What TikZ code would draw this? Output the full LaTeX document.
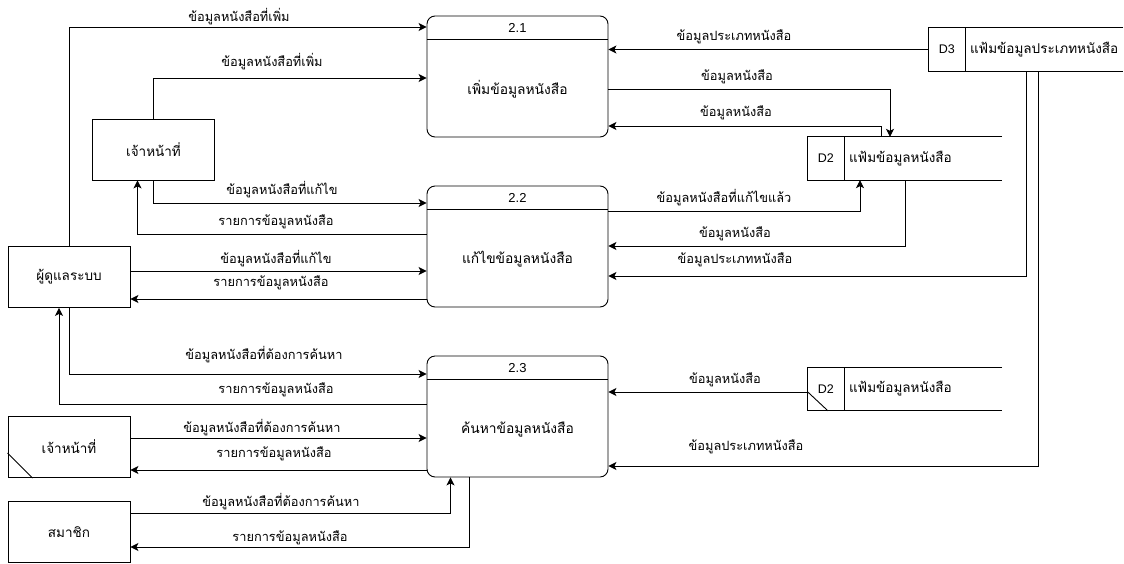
\documentclass[tikz,border=0pt]{standalone}
\usepackage{fontspec}
\setmainfont{Liberation Sans}
\newfontfamily\thaifont[Script=Thai]{Loma}
\usetikzlibrary{arrows.meta}
\tikzset{
  flow/.style={draw, line width=0.9pt, -{Stealth[length=8pt,width=8pt,inset=2pt]}},
  entity/.style={draw, line width=0.9pt, minimum width=122pt, minimum height=61pt,
    font=\thaifont\fontsize{13.5}{15}\selectfont},
  proc/.style={draw, line width=0.9pt, rounded corners=8pt, minimum width=181pt, minimum height=121pt},
  store/.style={minimum width=194pt, minimum height=43pt},
  lbl/.style={font=\thaifont\fontsize{12.8}{14}\selectfont, inner sep=1pt},
  pname/.style={font=\thaifont\fontsize{13.8}{15}\selectfont},
  pid/.style={font=\fontsize{13}{15}\selectfont}
}
\begin{document}
\begin{tikzpicture}[x=1pt, y=-1pt]
    \useasboundingbox (0,0) rectangle (1124,563);
    % external entities
    \node[entity] (staff) at (153.5,149.5) {เจ้าหน้าที่};
    \node[entity] (admin) at (69,277) {ผู้ดูแลระบบ};
    \node[entity] (staff2) at (69,447) {เจ้าหน้าที่};
    \node[entity] (member) at (69,532) {สมาชิก};
    \draw[line width=0.9pt] ([yshift=-6pt]staff2.west) -- ([xshift=25pt]staff2.south west); % duplicate
    % processes
    \node[proc] (p21) at (517.5,76.5) {};
    \node[proc] (p22) at (517.5,246.5) {};
    \node[proc] (p23) at (517.5,416.5) {};
    \foreach \p/\n/\t in {p21/2.1/เพิ่มข้อมูลหนังสือ, p22/2.2/แก้ไขข้อมูลหนังสือ, p23/2.3/ค้นหาข้อมูลหนังสือ} {
        \draw[line width=0.9pt] ([yshift=-24pt]\p.north west) -- ([yshift=-24pt]\p.north east);
        \node[pid] at ([yshift=-12pt]\p.north) {\n};
        \node[pname] at ([yshift=-13pt]\p.center) {\t};
    }
    % data stores
    \node[store] (d3) at (1026,49.5) {};
    \node[store] (d2a) at (905,158.5) {};
    \node[store] (d2b) at (905,389) {};
    \foreach \s/\n/\t in {d3/D3/แฟ้มข้อมูลประเภทหนังสือ, d2a/D2/แฟ้มข้อมูลหนังสือ, d2b/D2/แฟ้มข้อมูลหนังสือ} {
        \draw[line width=0.9pt] (\s.north east) -- (\s.north west) -- (\s.south west) -- (\s.south east)
            ([xshift=37pt]\s.north west) -- ([xshift=37pt]\s.south west);
        \node[pid, font=\fontsize{12.5}{14}\selectfont] at ([xshift=18pt]\s.west) {\n};
        \node[lbl, font=\thaifont\fontsize{13.5}{15}\selectfont, anchor=west] at ([xshift=40pt]\s.west) {\t};
    }
    \draw[line width=0.9pt] ([yshift=-3pt]d2b.west) -- ([xshift=20pt]d2b.south west); % duplicate

    % flows of 2.1
    \draw[flow] (admin.north) |- (p21.west |- 0,27);
    \node[lbl] at (239,17) {ข้อมูลหนังสือที่เพิ่ม};
    \draw[flow] (staff.north) |- (p21.west |- 0,78);
    \node[lbl] at (272,62) {ข้อมูลหนังสือที่เพิ่ม};
    \draw[flow] (d3.west) -- (p21.east |- d3.west);
    \node[lbl] at (734,37) {ข้อมูลประเภทหนังสือ};
    \draw[flow] (p21.east |- 0,89) -| ([xshift=-15pt]d2a.north);
    \node[lbl] at (737,77) {ข้อมูลหนังสือ};
    \draw[flow] ([xshift=-24pt]d2a.north) |- (p21.east |- 0,126);
    \node[lbl] at (736,113) {ข้อมูลหนังสือ};

    % flows of 2.2
    \draw[flow] (staff.south) |- (p22.west |- 0,203);
    \node[lbl] at (282,190) {ข้อมูลหนังสือที่แก้ไข};
    \draw[flow] (p22.west |- 0,234) -| ([xshift=-16pt]staff.south);
    \node[lbl] at (276,222) {รายการข้อมูลหนังสือ};
    \draw[flow] (admin.east |- 0,271) -- (p22.west |- 0,271);
    \node[lbl] at (276,259) {ข้อมูลหนังสือที่แก้ไข};
    \draw[flow] (p22.west |- 0,299) -- (admin.east |- 0,299);
    \node[lbl] at (271,283) {รายการข้อมูลหนังสือ};
    \draw[flow] (p22.east |- 0,211) -| ([xshift=-45pt]d2a.south);
    \node[lbl] at (724,198) {ข้อมูลหนังสือที่แก้ไขแล้ว};
    \draw[flow] (d2a.south) |- (p22.east |- 0,246);
    \node[lbl] at (735,234) {ข้อมูลหนังสือ};
    \draw[flow] (d3.south) |- (p22.east |- 0,276);
    \node[lbl] at (735,260) {ข้อมูลประเภทหนังสือ};

    % flows of 2.3
    \draw[flow] (admin.south) |- (p23.west |- 0,374);
    \node[lbl] at (264,355) {ข้อมูลหนังสือที่ต้องการค้นหา};
    \draw[flow] (p23.west |- 0,404) -| ([xshift=-10pt]admin.south);
    \node[lbl] at (276,390) {รายการข้อมูลหนังสือ};
    \draw[flow] (staff2.east |- 0,438) -- (p23.west |- 0,438);
    \node[lbl] at (262,428) {ข้อมูลหนังสือที่ต้องการค้นหา};
    \draw[flow] (p23.west |- 0,470) -- (staff2.east |- 0,470);
    \node[lbl] at (274,454) {รายการข้อมูลหนังสือ};
    \draw[flow] (member.east |- 0,513) -| ([xshift=-67pt]p23.south);
    \node[lbl] at (281,502) {ข้อมูลหนังสือที่ต้องการค้นหา};
    \draw[flow] ([xshift=-48pt]p23.south) |- (member.east |- 0,547);
    \node[lbl] at (290,538) {รายการข้อมูลหนังสือ};
    \draw[flow] ([yshift=-3pt]d2b.west) -- (p23.east |- 0,392);
    \node[lbl] at (725,380) {ข้อมูลหนังสือ};
    \draw[flow] ([xshift=12pt]d3.south) |- (p23.east |- 0,466);
    \node[lbl] at (746,447) {ข้อมูลประเภทหนังสือ};
\end{tikzpicture}
\end{document}
